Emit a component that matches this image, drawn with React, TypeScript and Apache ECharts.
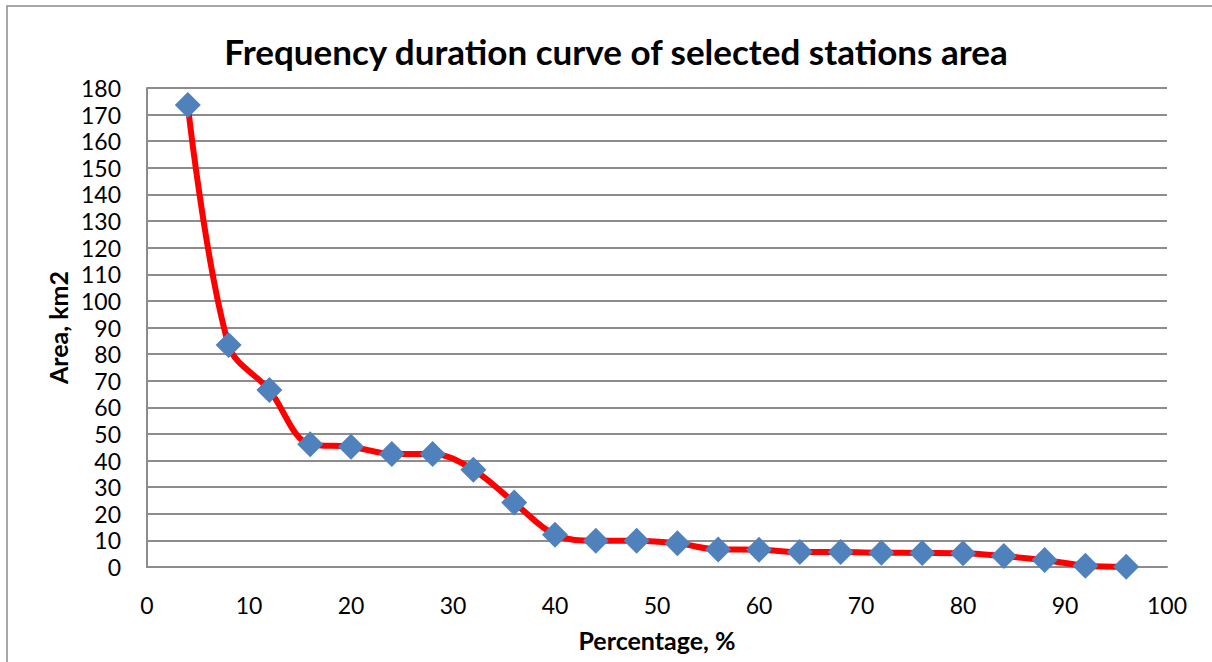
import React, { useEffect, useRef } from "react";
import * as echarts from "echarts";

const titleText = "Frequency duration curve of selected stations area";
const xName = "Percentage, %";
const yName = "Area, km2";
const percentages = [4, 8, 12, 16, 20, 24, 28, 32, 36, 40, 44, 48, 52, 56, 60, 64, 68, 72, 76, 80, 84, 88, 92, 96];
const areas = [173.6, 83.4, 66.5, 46.1, 45.2, 42.5, 42.5, 36.5, 24.2, 12.1, 9.9, 9.9, 8.9, 6.6, 6.5, 5.6, 5.6, 5.4, 5.3, 5.2, 4.1, 2.6, 0.5, 0.1];

const FONT = "Lato, 'Open Sans', sans-serif";

export default function App() {
  const ref = useRef<HTMLDivElement>(null);
  useEffect(() => {
    document.body.style.margin = "0";
    const chart = echarts.init(ref.current!, null, { renderer: "svg" });
    chart.setOption({
      animation: false,
      backgroundColor: "#ffffff",
      title: {
        text: titleText,
        left: 611,
        textAlign: "center",
        top: 28,
        textStyle: { fontFamily: FONT, fontSize: 35, fontWeight: "bold", color: "#000" },
      },
      graphic: [
        {
          type: "rect",
          shape: { x: 7, y: 6, width: 1230, height: 680 },
          style: { fill: "none", stroke: "#8c8c8c", lineWidth: 1.5 },
          silent: true,
        },
      ],
      grid: { left: 147, top: 88, right: 45, bottom: 95, containLabel: false },
      xAxis: {
        type: "value",
        min: 0,
        max: 100,
        interval: 10,
        name: xName,
        nameLocation: "middle",
        nameGap: 60,
        nameTextStyle: { fontFamily: FONT, fontSize: 25, fontWeight: "bold", color: "#000" },
        axisLine: { show: true, lineStyle: { color: "#8c8c8c", width: 2 } },
        axisTick: { show: false },
        splitLine: { show: false },
        axisLabel: { fontFamily: FONT, fontSize: 23, color: "#000", margin: 26 },
      },
      yAxis: {
        type: "value",
        min: 0,
        max: 180,
        interval: 10,
        name: yName,
        nameLocation: "middle",
        nameRotate: 90,
        nameGap: 74,
        nameTextStyle: { fontFamily: FONT, fontSize: 25, fontWeight: "bold", color: "#000" },
        axisLine: { show: true, lineStyle: { color: "#8c8c8c", width: 2 } },
        axisTick: { show: false },
        splitLine: { show: true, lineStyle: { color: "#8c8c8c", width: 2 } },
        axisLabel: { fontFamily: FONT, fontSize: 23, color: "#000", margin: 26 },
      },
      series: [
        {
          type: "line",
          data: percentages.map((p, i) => [p, areas[i]]),
          smooth: 0.35,
          lineStyle: { color: "#ff0000", width: 6 },
          symbol: "diamond",
          symbolSize: 26,
          itemStyle: { color: "#4f81bd" },
          showSymbol: true,
        },
      ],
    });
    return () => chart.dispose();
  }, []);
  return <div ref={ref} style={{ position: "fixed", left: 0, top: 0, width: 1212, height: 662 }} />;
}
